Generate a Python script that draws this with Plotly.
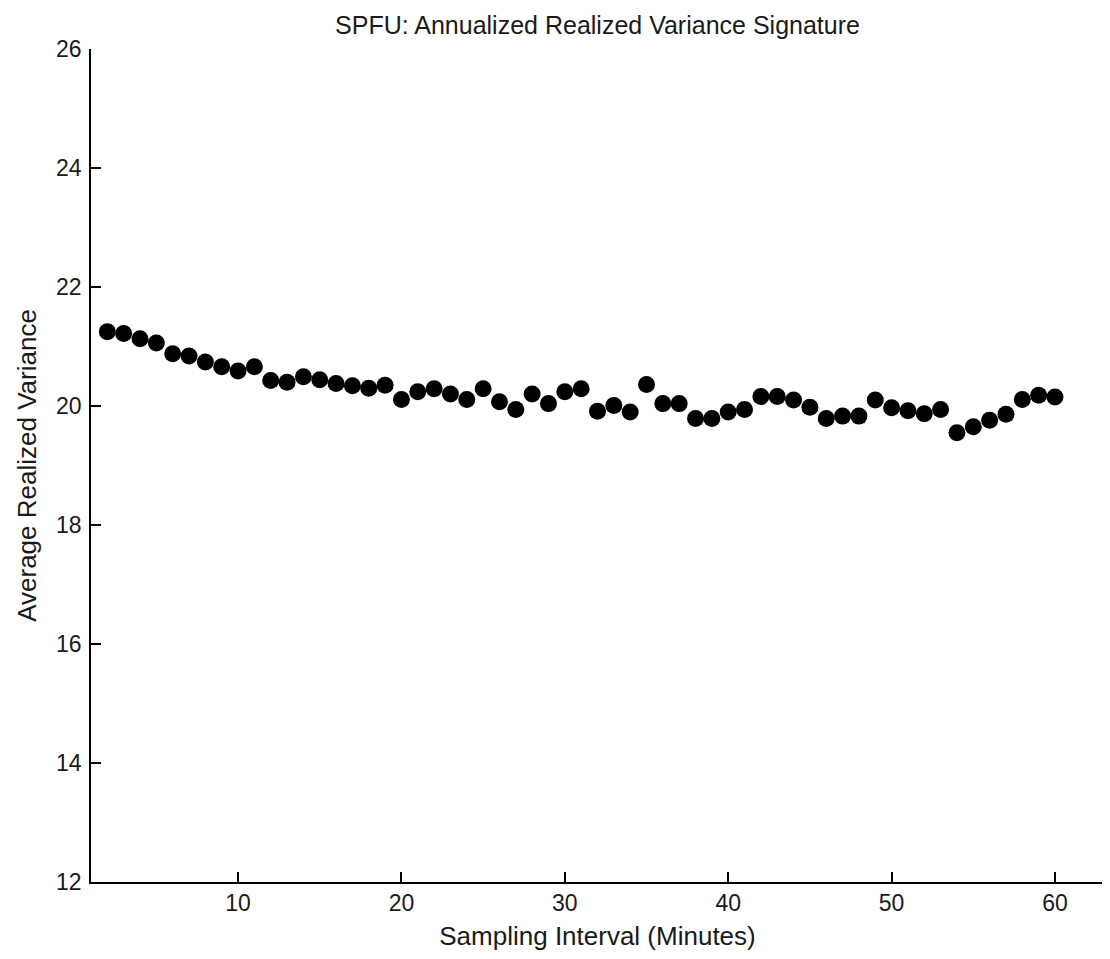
import plotly.graph_objects as go

sampling_interval = list(range(2, 61))
avg_realized_variance = [
    21.25, 21.22, 21.13, 21.06, 20.88, 20.84, 20.74, 20.66, 20.59, 20.66,
    20.43, 20.40, 20.49, 20.44, 20.38, 20.34, 20.30, 20.35, 20.11, 20.24,
    20.29, 20.20, 20.11, 20.29, 20.07, 19.94, 20.20, 20.04, 20.24, 20.29,
    19.91, 20.01, 19.90, 20.36, 20.04, 20.04, 19.79, 19.79, 19.90, 19.94,
    20.16, 20.16, 20.10, 19.98, 19.79, 19.83, 19.83, 20.10, 19.97, 19.92,
    19.87, 19.94, 19.55, 19.65, 19.76, 19.86, 20.11, 20.18, 20.15,
]
x_ticks = [10, 20, 30, 40, 50, 60]
y_ticks = [12, 14, 16, 18, 20, 22, 24, 26]

title_text = "SPFU: Annualized Realized Variance Signature"
x_label = "Sampling Interval (Minutes)"
y_label = "Average Realized Variance"

font_family = "Liberation Sans, Arial, sans-serif"
text_color = "#1a1a1a"

fig = go.Figure(
    go.Scatter(
        x=sampling_interval,
        y=avg_realized_variance,
        mode="markers",
        marker=dict(size=17, color="black", symbol="circle", line=dict(width=0)),
        showlegend=False,
    )
)

fig.update_layout(
    width=1102,
    height=943,
    margin=dict(l=83, r=6, t=41, b=69),
    paper_bgcolor="white",
    plot_bgcolor="white",
    font=dict(family=font_family, color=text_color),
    title=dict(
        text=title_text,
        x=589.5 / 1102,
        xanchor="center",
        xref="container",
        y=1 - 17 / 943,
        yref="container",
        yanchor="middle",
        font=dict(size=25, family=font_family, color=text_color),
    ),
)

fig.update_xaxes(
    range=[1, 63],
    tickvals=x_ticks,
    ticktext=[str(v) for v in x_ticks],
    ticks="inside",
    ticklen=10,
    tickwidth=1.5,
    tickcolor="black",
    showline=True,
    linecolor="black",
    linewidth=1.5,
    mirror=False,
    showgrid=False,
    zeroline=False,
    tickfont=dict(size=23, family=font_family, color=text_color),
    title=dict(text=x_label, standoff=17, font=dict(size=26, family=font_family, color=text_color)),
    automargin=False,
)
fig.update_yaxes(
    range=[12, 26],
    tickvals=y_ticks,
    ticktext=[str(v) for v in y_ticks],
    ticks="inside",
    ticklen=10,
    tickwidth=1.5,
    tickcolor="black",
    ticklabelstandoff=3,
    showline=True,
    linecolor="black",
    linewidth=1.5,
    mirror=False,
    showgrid=False,
    zeroline=False,
    tickfont=dict(size=23, family=font_family, color=text_color),
    title=dict(text=y_label, standoff=12, font=dict(size=26, family=font_family, color=text_color)),
    automargin=False,
)

fig.write_html("out.html")
